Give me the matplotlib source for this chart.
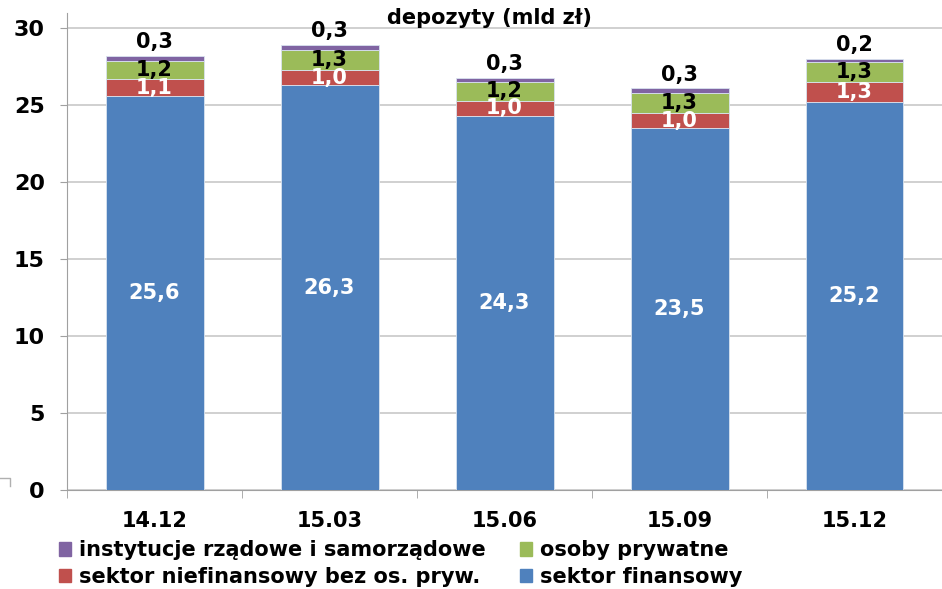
import numpy as np
import matplotlib
matplotlib.use("Agg")
import matplotlib.pyplot as plt
from matplotlib.patches import Patch
from matplotlib.lines import Line2D

plt.rcParams["font.family"] = ["DejaVu Sans"]
plt.rcParams["font.weight"] = "bold"

# dane
kategorie = ["14.12", "15.03", "15.06", "15.09", "15.12"]
sektor_finansowy = [25.6, 26.3, 24.3, 23.5, 25.2]
sektor_niefinansowy = [1.1, 1.0, 1.0, 1.0, 1.3]
osoby_prywatne = [1.2, 1.3, 1.2, 1.3, 1.3]
instytucje_rzadowe = [0.3, 0.3, 0.3, 0.3, 0.2]

kolory = ["#4F81BD", "#C0504D", "#9BBB59", "#8064A2"]
nazwy = ["sektor finansowy", "sektor niefinansowy bez os. pryw.",
         "osoby prywatne", "instytucje rządowe i samorządowe"]

fig = plt.figure(figsize=(9.42, 5.89), dpi=100)
ax = fig.add_axes([67 / 942, 1 - 490 / 589, 1 - 67 / 942, (490 - 13) / 589])

x = np.arange(len(kategorie))
serie = [sektor_finansowy, sektor_niefinansowy, osoby_prywatne, instytucje_rzadowe]
dol = np.zeros(len(kategorie))
for i, s in enumerate(serie):
    s = np.array(s)
    ax.bar(x, s, 0.56, bottom=dol, color=kolory[i], edgecolor="#D9E3F0",
           linewidth=0.6, zorder=3)
    for j in range(len(x)):
        txt = ("%.1f" % s[j]).replace(".", ",")
        if i == 3:
            ax.text(x[j], dol[j] + s[j] + 0.9, txt, ha="center", va="center",
                    fontsize=15, color="black", zorder=4)
        else:
            kol = "white" if i < 2 else "black"
            ax.text(x[j], dol[j] + s[j] / 2, txt, ha="center", va="center",
                    fontsize=15, color=kol, zorder=4)
    dol = dol + s

ax.set_xlim(-0.5, 4.5)
ax.set_ylim(0, 31)
ax.set_yticks(np.arange(0, 31, 5))
ax.grid(axis="y", color="#C8C8C8", linewidth=1.2, zorder=0)
ax.set_xticks(x)
ax.set_xticklabels(kategorie, fontsize=15)
ax.set_xticks(np.arange(-0.5, 5, 1), minor=True)
ax.tick_params(axis="x", which="major", length=0, pad=15)
ax.tick_params(axis="x", which="minor", length=6, color="#A0A0A0", direction="out")
ax.tick_params(axis="y", length=5, color="#A0A0A0", labelsize=16, pad=11)
for sp in ["top", "right"]:
    ax.spines[sp].set_visible(False)
for sp in ["left", "bottom"]:
    ax.spines[sp].set_color("#A0A0A0")

fig.text(489 / 942, 1 - 18 / 589, "depozyty (mld zł)", ha="center", va="center",
         fontsize=15)

# drobny znacznik w lewym dolnym rogu
fig.add_artist(Line2D([0, 10 / 942, 10 / 942], [1 - 478 / 589, 1 - 478 / 589, 1 - 486 / 589],
                      color="#B0B0B0", linewidth=1))

uchwyty = [Patch(color=kolory[3]), Patch(color=kolory[1]),
           Patch(color=kolory[2]), Patch(color=kolory[0])]
etykiety = [nazwy[3], nazwy[1], nazwy[2], nazwy[0]]
fig.legend(uchwyty, etykiety, ncol=2, loc="center left",
           bbox_to_anchor=(40 / 942, 1 - 563.5 / 589), frameon=False, fontsize=15,
           handlelength=0.6, handleheight=0.6, handletextpad=0.36,
           columnspacing=1.65, labelspacing=0.3)

plt.savefig("out.png", dpi=100)
